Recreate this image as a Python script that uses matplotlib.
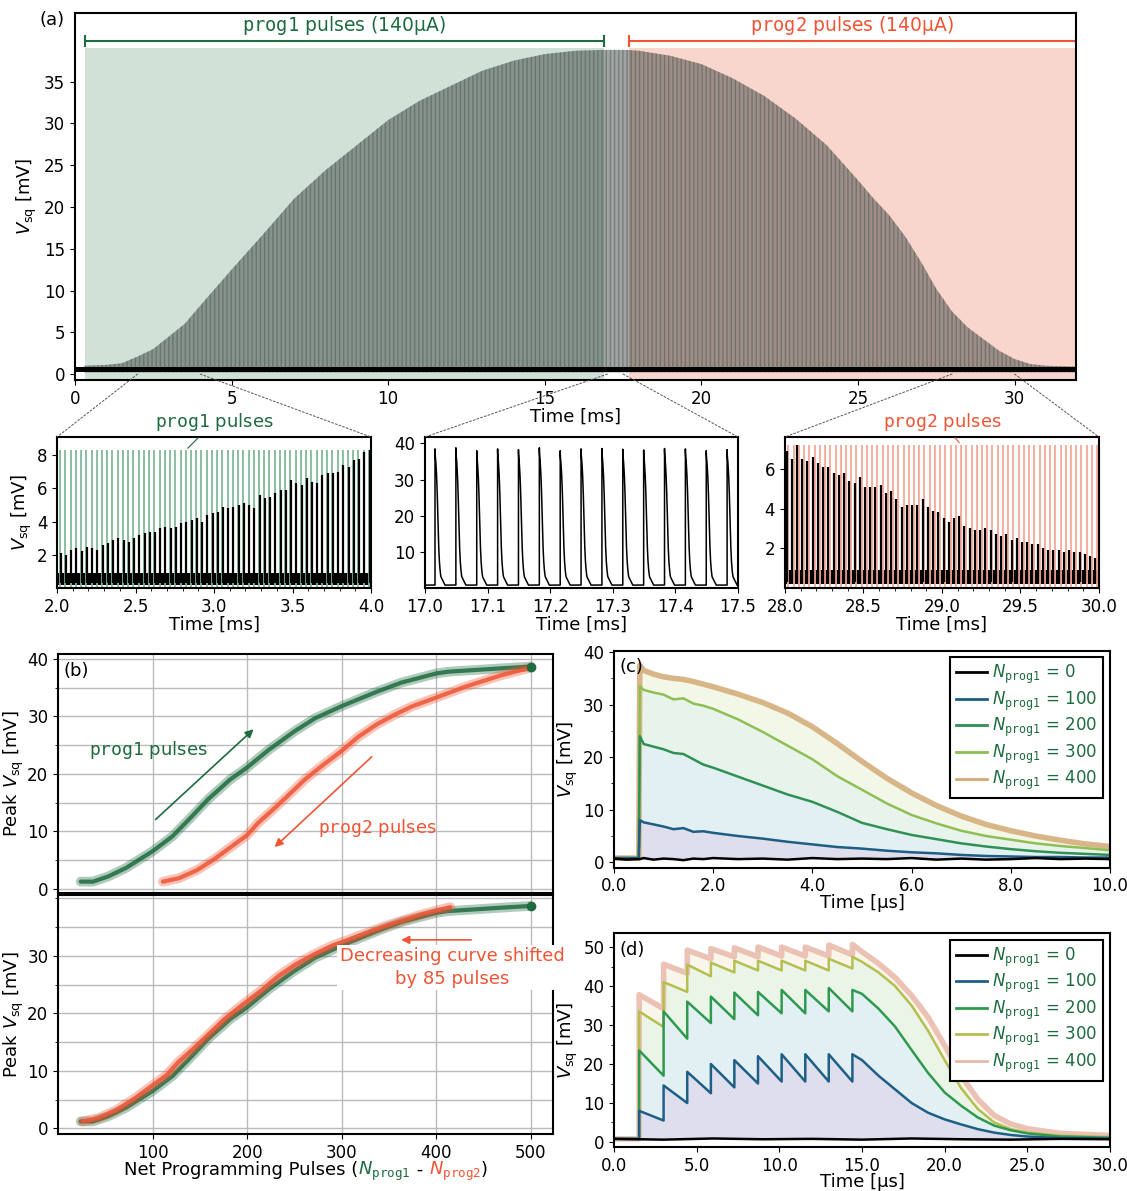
import numpy as np
import matplotlib.pyplot as plt
from matplotlib.patches import ConnectionPatch
from matplotlib.ticker import MultipleLocator, FormatStrFormatter

plt.rcParams['font.family'] = 'DejaVu Sans'
plt.rcParams['mathtext.fontset'] = 'dejavusans'
plt.rcParams['axes.linewidth'] = 1.5

GREEN = '#1e6b40'
RED = '#ef5535'
LGREEN = '#80b99a'
LRED = '#f6a898'
VSQ = r'$V_{\rm sq}$ [mV]'
NP1 = r'$N_{\mathtt{prog1}}$'
NP2 = r'$N_{\mathtt{prog2}}$'

#%% data
# (a) envelope of pulse peak heights vs time [ms]
env_t = [0.3, 1.0, 1.5, 2.0, 2.5, 3.0, 3.5, 4.0, 5.0, 6.0, 7.0, 8.0, 9.0, 10.0, 11.0,
         12.0, 13.0, 14.0, 15.0, 16.0, 16.9, 17.6, 18.0, 19.0, 20.0, 21.0, 22.0, 23.0,
         24.0, 25.0, 25.5, 26.0, 26.5, 27.0, 27.5, 28.0, 28.5, 29.0, 29.5, 30.0, 30.5, 31.0, 31.95]
env_v = [1.0, 1.1, 1.3, 2.1, 3.0, 4.5, 6.0, 8.2, 12.5, 16.7, 21.0, 24.4, 27.4, 30.4, 32.7,
         34.5, 36.3, 37.5, 38.3, 38.7, 38.8, 38.8, 38.7, 38.1, 37.1, 35.4, 33.3, 30.6,
         27.4, 23.2, 21.0, 19.0, 16.5, 13.5, 10.2, 7.5, 5.6, 4.2, 2.8, 1.8, 1.2, 1.0, 0.9]
prog1_span = [0.32, 16.88]
prog2_span = [17.68, 31.95]

# inset peaks (one pulse every 1/30 ms)
ins1_peaks = [2.1, 2.0, 2.3, 2.4, 2.2, 2.5, 2.4, 2.3, 2.6, 2.7,
              2.9, 3.0, 2.9, 2.8, 3.0, 3.2, 3.3, 3.4, 3.4, 3.6,
              3.7, 3.6, 3.7, 3.9, 4.0, 4.1, 4.2, 4.0, 4.4, 4.5,
              4.6, 4.9, 4.8, 4.9, 5.0, 5.1, 5.0, 4.8, 5.6, 5.4,
              5.5, 5.7, 5.9, 5.9, 6.5, 6.3, 6.2, 6.6, 6.4, 6.3,
              6.8, 6.9, 6.9, 7.0, 7.4, 7.3, 7.7, 7.8, 8.2, 8.3]
ins2_peaks = [38.5, 38.8, 38.0, 38.5, 38.3, 38.8, 38.0, 38.5, 38.6, 38.4, 38.2, 38.6, 38.5, 38.0, 38.3]
ins3_peaks = [6.9, 6.5, 7.2, 6.5, 6.4, 6.6, 6.3, 6.1, 6.1, 5.8,
              5.7, 5.8, 5.4, 5.3, 5.6, 5.1, 5.1, 5.1, 5.2, 4.8,
              4.9, 4.5, 4.1, 4.2, 4.2, 4.2, 4.5, 4.1, 3.9, 3.8,
              3.5, 3.3, 3.5, 3.6, 3.1, 3.0, 2.9, 2.9, 3.0, 2.9,
              2.7, 2.6, 2.7, 2.4, 2.5, 2.3, 2.3, 2.2, 2.2, 2.0,
              1.9, 1.9, 1.9, 1.8, 1.9, 1.8, 1.8, 1.7, 1.6, 1.5]
PERIOD = 1 / 30.

# (b) peak Vsq vs net programming pulses
b_g_n = [24, 37, 53, 72, 100, 121, 140, 159, 182, 200, 223, 250, 272, 300, 337, 363, 400, 412, 431, 469, 500]
b_g_v = [1.2, 1.2, 2.1, 3.6, 6.5, 9.1, 12.3, 15.6, 19.0, 21.1, 24.2, 27.4, 29.7, 31.8, 34.3, 35.9, 37.5, 37.8, 38.0, 38.4, 38.7]
b_r_n = [111, 128, 147, 166, 185, 200, 212, 227, 242, 261, 280, 300, 318, 337, 356, 375, 400, 431, 469, 500]
b_r_v = [1.2, 1.8, 3.2, 5.2, 7.5, 9.3, 11.5, 13.7, 16.0, 19.0, 21.5, 24.0, 26.5, 28.6, 30.3, 31.8, 33.3, 35.2, 37.2, 38.5]
SHIFT = 85

# (c) single pulse response [us]
c_t = [0.0, 0.25, 0.5, 0.52, 0.6, 0.8, 1.0, 1.2, 1.4, 1.6, 1.8, 2.0, 2.5, 3.0, 3.5, 4.0,
       4.5, 5.0, 5.5, 6.0, 6.5, 7.0, 7.5, 8.0, 8.5, 9.0, 9.5, 10.0]
c_curves = {
    0:   [0.7, 0.5, 0.6, 0.6, 0.8, 0.5, 0.7, 0.6, 0.4, 0.7, 0.6, 0.8, 0.6, 0.7, 0.5, 0.8,
          0.6, 0.7, 0.6, 0.8, 0.5, 0.7, 0.5, 0.6, 0.8, 0.6, 0.7, 0.6],
    100: [0.8, 0.8, 0.8, 8.0, 7.6, 7.2, 6.8, 6.3, 6.5, 5.8, 5.9, 5.6, 5.0, 4.5, 3.9, 3.4,
          2.9, 2.6, 2.2, 1.9, 1.7, 1.4, 1.2, 1.1, 1.0, 1.0, 0.9, 0.9],
    200: [0.8, 0.8, 0.8, 24.0, 22.5, 22.0, 21.5, 20.8, 20.6, 19.6, 18.6, 18.0, 16.3, 14.6, 12.9, 11.5,
          9.6, 7.5, 6.3, 5.2, 4.4, 3.6, 3.0, 2.5, 2.1, 1.8, 1.6, 1.4],
    300: [0.8, 0.8, 0.8, 33.5, 32.8, 32.3, 31.9, 31.0, 31.2, 30.2, 29.8, 29.2, 27.2, 24.8, 22.2, 19.6,
          16.4, 13.8, 11.2, 9.0, 7.4, 6.0, 5.0, 4.3, 3.6, 3.1, 2.7, 2.3],
    400: [0.8, 0.8, 0.8, 37.5, 36.5, 35.8, 35.3, 35.0, 34.8, 34.4, 33.9, 33.4, 32.0, 30.4, 28.4, 25.8,
          22.6, 19.2, 16.0, 13.2, 10.8, 8.8, 7.2, 6.0, 5.0, 4.2, 3.5, 3.0],
}
c_colors = {0: 'black', 100: '#1e5e84', 200: '#2f9154', 300: '#8ebf55', 400: '#d3aa74'}

# (d) pulse train response [us]
d_pulse_t = [1.52, 3.0, 4.43, 5.86, 7.28, 8.71, 10.14, 11.57, 12.99, 14.42]
d_tail_t = [15.0, 16.0, 17.0, 18.0, 19.0, 20.0, 21.0, 22.0, 23.0, 24.0, 25.0, 27.0, 30.0]
d_peaks = {
    100: [8.0, 14.5, 18.0, 20.0, 21.0, 22.0, 22.5, 22.5, 22.5, 22.5],
    200: [23.5, 33.5, 36.0, 37.3, 38.3, 38.5, 39.0, 39.0, 39.5, 39.0],
    300: [33.5, 41.0, 45.5, 46.0, 46.5, 46.5, 46.5, 46.5, 47.0, 47.5],
    400: [37.8, 45.6, 49.2, 49.6, 49.8, 50.0, 50.0, 50.0, 50.5, 50.7],
}
d_dips = {
    100: [5.5, 10.0, 12.5, 14.0, 15.0, 15.5, 15.5, 15.5, 15.5],
    200: [17.0, 26.5, 30.5, 31.5, 32.5, 33.0, 33.0, 33.5, 33.5],
    300: [29.5, 38.5, 42.5, 43.5, 44.0, 44.0, 44.0, 44.0, 44.5],
    400: [34.2, 43.3, 47.0, 47.5, 47.5, 47.7, 47.7, 47.7, 48.0],
}
d_tail = {
    100: [21.0, 17.0, 13.5, 10.0, 7.5, 5.8, 4.5, 3.3, 2.4, 1.8, 1.4, 1.0, 0.9],
    200: [38.0, 34.2, 29.6, 23.6, 17.7, 12.7, 9.3, 6.3, 4.2, 3.0, 2.2, 1.4, 1.1],
    300: [46.2, 43.5, 40.0, 35.0, 28.5, 21.0, 13.8, 8.5, 5.0, 3.3, 2.4, 1.6, 1.3],
    400: [48.8, 45.8, 42.2, 37.6, 32.0, 24.8, 17.0, 11.0, 6.8, 4.6, 3.4, 2.2, 1.7],
}
d_base = 0.8
d_zero_t = [0.0, 3.0, 6.0, 9.0, 12.0, 15.0, 18.0, 21.0, 24.0, 27.0, 30.0]
d_zero_v = [0.8, 0.6, 0.9, 0.7, 0.8, 0.6, 0.9, 0.7, 0.6, 0.8, 0.7]
d_colors = {0: 'black', 100: '#1e5f86', 200: '#2f9a4f', 300: '#b5bf4f', 400: '#e8b8a8'}


def train(n):
    t = [0.0, d_pulse_t[0]]
    v = [d_base, d_base]
    for k, p in enumerate(d_peaks[n]):
        t.append(d_pulse_t[k]); v.append(p)
        if k < len(d_dips[n]):
            t.append(d_pulse_t[k + 1]); v.append(d_dips[n][k])
    return np.array(t + d_tail_t), np.array(v + d_tail[n])


def style_legend(leg):
    leg.get_frame().set_linewidth(1.5)
    for txt in leg.get_texts():
        txt.set_color(GREEN)
    for lh in leg.get_lines():
        lh.set_linewidth(2)
        lh.set_alpha(1)


fig = plt.figure(figsize=(11.27, 11.91), dpi=100)

#%% (a) full trace
axA = fig.add_axes([0.0665, 0.681, 0.888, 0.308])
axA.fill_between(prog1_span, -0.7, 39.0, color='#d0e1d8', lw=0)
axA.fill_between(prog2_span, -0.7, 39.0, color='#f9d6cd', lw=0)
axA.fill_between(env_t, 0.2, env_v, color='#2d3833', alpha=0.45, lw=0, hatch='||||', edgecolor='#46514c')
axA.fill_between([0, 31.95], 0.3, 0.85, color='black', lw=0)
for span, col, lab in [(prog1_span, GREEN, r'$\mathtt{prog1}$ pulses (140µA)'),
                       (prog2_span, RED, r'$\mathtt{prog2}$ pulses (140µA)')]:
    axA.plot(span, [39.9, 39.9], color=col, lw=1.5)
    axA.plot([span[0]] * 2, [39.3, 40.5], color=col, lw=1.5)
    axA.plot([span[1]] * 2, [39.3, 40.5], color=col, lw=1.5)
    axA.text(np.mean(span), 40.3, lab, color=col, ha='center', va='bottom', fontsize=13.5)
axA.set_xlim(0, 31.95)
axA.set_ylim(-0.7, 43.2)
axA.set_yticks(range(0, 40, 5))
axA.set_xticks(range(0, 35, 5))
axA.tick_params(labelsize=12)
axA.set_xlabel('Time [ms]', fontsize=13, labelpad=0)
axA.set_ylabel(VSQ, fontsize=13)
fig.text(0.035, 0.983, '(a)', fontsize=13, va='center')

#%% insets
ins_w, ins_h, ins_b = 0.2786, 0.1268, 0.5063
ax1 = fig.add_axes([0.0506, ins_b, ins_w, ins_h])
ax2 = fig.add_axes([0.3771, ins_b, 0.2777, ins_h])
ax3 = fig.add_axes([0.6965, ins_b, ins_w, ins_h])

t1 = 2.0 + np.arange(len(ins1_peaks)) * PERIOD + 0.02
ax1.vlines(t1, 0, 8.3, color=LGREEN, lw=1.3)
ax1.fill_between([2.0, 4.0], 0.2, 0.9, color='black', lw=0)
ax1.vlines(t1 + 0.004, 0.3, ins1_peaks, color='black', lw=1.6)
ax1.set_xlim(2.0, 4.0)
ax1.set_ylim(0, 9.1)
ax1.set_yticks([2, 4, 6, 8])
ax1.set_xticks([2.0, 2.5, 3.0, 3.5, 4.0])
ax1.xaxis.set_major_formatter(FormatStrFormatter('%.1f'))
ax1.xaxis.set_minor_locator(MultipleLocator(0.1))
ax1.set_ylabel(VSQ, fontsize=13, labelpad=2)
ax1.annotate(r'$\mathtt{prog1}$ pulses', xy=(t1[24], 8.3), xytext=(0.5, 1.1),
             textcoords='axes fraction', ha='center', va='center', color=GREEN, fontsize=13,
             arrowprops=dict(arrowstyle='-', color=GREEN, lw=0.8))

# middle inset: spikes shaped like the (c) N=400 response
c_arr = np.array(c_curves[400])
ct_arr = np.array(c_t)
mask = ct_arr >= 0.5
t2 = 17.016 + np.arange(len(ins2_peaks)) * PERIOD
xs, ys = [17.0], [0.8]
for tk, pk in zip(t2, ins2_peaks):
    xs += list(tk + (ct_arr[mask] - 0.5) / 1000.)
    ys += list(c_arr[mask] * pk / 37.5)
    xs.append(tk + 0.016); ys.append(0.8)
xs.append(17.5); ys.append(0.8)
ax2.plot(xs, ys, color='black', lw=1.1)
ax2.set_xlim(17.0, 17.5)
ax2.set_ylim(0, 41.8)
ax2.set_yticks([10, 20, 30, 40])
ax2.set_xticks(np.arange(17.0, 17.55, 0.1))
ax2.xaxis.set_major_formatter(FormatStrFormatter('%.1f'))

t3 = 28.0 + np.arange(len(ins3_peaks)) * PERIOD + 0.01
ax3.vlines(t3 + 0.012, 0, 7.2, color=LRED, lw=1.3)
ax3.fill_between([28.0, 30.0], 0.2, 0.9, color='black', lw=0)
ax3.vlines(t3, 0.3, ins3_peaks, color='black', lw=1.6)
ax3.set_xlim(28.0, 30.0)
ax3.set_ylim(0, 7.6)
ax3.set_yticks([2, 4, 6])
ax3.set_xticks([28.0, 28.5, 29.0, 29.5, 30.0])
ax3.xaxis.set_major_formatter(FormatStrFormatter('%.1f'))
ax3.xaxis.set_minor_locator(MultipleLocator(0.1))
ax3.annotate(r'$\mathtt{prog2}$ pulses', xy=(t3[33] + 0.012, 7.2), xytext=(0.5, 1.1),
             textcoords='axes fraction', ha='center', va='center', color=RED, fontsize=13,
             arrowprops=dict(arrowstyle='-', color=RED, lw=0.8))

for ax, (x0, x1) in [(ax1, (2.0, 4.0)), (ax2, (17.0, 17.5)), (ax3, (28.0, 30.0))]:
    ax.tick_params(labelsize=12)
    ax.set_xlabel('Time [ms]', fontsize=13, labelpad=0)
    for xa, xb in [(x0, 0), (x1, 1)]:
        con = ConnectionPatch(xyA=(xa, 0.0), coordsA=axA.transData, xyB=(xb, 1),
                              coordsB=ax.transAxes, color='#555555', lw=0.7, ls=(0, (2, 2)))
        fig.add_artist(con)

#%% (b) peak vs net pulses
axB1 = fig.add_axes([0.0515, 0.2506, 0.4395, 0.2003])
axB2 = fig.add_axes([0.0515, 0.0478, 0.4395, 0.2007])
for ax in (axB1, axB2):
    ax.set_xlim(0, 524)
    ax.set_xticks([100, 200, 300, 400, 500])
    ax.set_yticks([0, 10, 20, 30, 40])
    ax.yaxis.set_minor_locator(MultipleLocator(5))
    ax.grid(True, which='both', color='#bbbbbb', lw=1.0)
    ax.set_axisbelow(True)
    ax.tick_params(labelsize=12)
    ax.set_ylabel('Peak ' + VSQ, fontsize=13, labelpad=1)
axB1.set_ylim(-0.7, 40.9)
axB2.set_ylim(-1.0, 40.6)
axB1.tick_params(labelbottom=False)
axB2.set_yticks([0, 10, 20, 30])
axB2.set_yticks([5, 15, 25, 35, 40], minor=True)


def band(ax, n, v, col):
    ax.plot(n, v, color=col, lw=7, alpha=0.35, solid_capstyle='round')
    ax.plot(n, v, color=col, lw=3, alpha=0.85, solid_capstyle='round')


band(axB1, b_g_n, b_g_v, GREEN)
band(axB1, b_r_n, b_r_v, RED)
axB1.plot(b_g_n[-1], b_g_v[-1], 'o', color=GREEN, ms=6)
axB1.annotate('', xy=(209, 28.1), xytext=(101, 11.7),
              arrowprops=dict(arrowstyle='-|>', color=GREEN, lw=1.2, mutation_scale=12))
axB1.annotate('', xy=(227, 6.9), xytext=(334, 23.3),
              arrowprops=dict(arrowstyle='-|>', color=RED, lw=1.2, mutation_scale=12))
axB1.text(96, 24.2, r'$\mathtt{prog1}$ pulses', color=GREEN, fontsize=13, ha='center', va='center')
axB1.text(338, 10.6, r'$\mathtt{prog2}$ pulses', color=RED, fontsize=13, ha='center', va='center')
axB1.text(0.012, 0.965, '(b)', transform=axB1.transAxes, fontsize=13, va='top')

band(axB2, b_g_n, b_g_v, GREEN)
band(axB2, np.array(b_r_n) - SHIFT, b_r_v, RED)
axB2.plot(b_g_n[-1], b_g_v[-1], 'o', color=GREEN, ms=6)
axB2.annotate('', xy=(360, 32.8), xytext=(440, 32.8),
              arrowprops=dict(arrowstyle='-|>', color=RED, lw=1.2, mutation_scale=12))
axB2.text(417, 28.0, 'Decreasing curve shifted\nby 85 pulses', color=RED, fontsize=13,
          ha='center', va='center', linespacing=1.3,
          bbox=dict(facecolor='white', edgecolor='none', pad=2))

#%% (c) and (d)
axC = fig.add_axes([0.5448, 0.2716, 0.4401, 0.1822])
levels = [0, 100, 200, 300, 400]
fills_c = ['#3f3f9a', '#5aa8b8', '#7cc08a', '#b6d27a']
for lo, hi, fc in zip(levels[:-1], levels[1:], fills_c):
    axC.fill_between(c_t, c_curves[lo], c_curves[hi], color=fc, alpha=0.17, lw=0)
for n in [400, 300, 200, 100, 0]:
    axC.plot(c_t, c_curves[n], color=c_colors[n], lw=4 if n == 400 else 1.8,
             alpha=0.85 if n == 400 else 1, label=NP1 + f' = {n}', zorder=3 if n == 0 else 2)
h, l = axC.get_legend_handles_labels()
legC = axC.legend(h[::-1], l[::-1], loc='upper right', fontsize=12, frameon=True, fancybox=False,
                  edgecolor='black', framealpha=1, handlelength=1.9, handletextpad=0.3,
                  borderpad=0.35, labelspacing=0.2, borderaxespad=0.4)
style_legend(legC)
axC.set_xlim(0, 10)
axC.set_ylim(-1.0, 40.3)
axC.set_xticks([0, 2, 4, 6, 8, 10])
axC.xaxis.set_major_formatter(FormatStrFormatter('%.1f'))
axC.set_yticks([0, 10, 20, 30, 40])
axC.yaxis.set_minor_locator(MultipleLocator(5))
axC.tick_params(labelsize=12)
axC.set_xlabel('Time [µs]', fontsize=13, labelpad=-1)
axC.set_ylabel(VSQ, fontsize=13, labelpad=2)
axC.text(0.012, 0.965, '(c)', transform=axC.transAxes, fontsize=13, va='top')

axD = fig.add_axes([0.5448, 0.0369, 0.4401, 0.1797])
d_lines = {n: train(n) for n in [100, 200, 300, 400]}
dt = d_lines[100][0]
fills_d = ['#3f3f9a', '#5aa8b8', '#86c47a', '#d8c98a']
prev = np.full(len(dt), d_base)
for n, fc in zip([100, 200, 300, 400], fills_d):
    axD.fill_between(dt, prev, d_lines[n][1], color=fc, alpha=0.17, lw=0)
    prev = d_lines[n][1]
for n in [400, 300, 200, 100]:
    axD.plot(*d_lines[n], color=d_colors[n], lw=4 if n == 400 else 1.8,
             alpha=0.85 if n == 400 else 1, label=NP1 + f' = {n}')
axD.plot(d_zero_t, d_zero_v, color='black', lw=1.8, label=NP1 + ' = 0', zorder=3)
h, l = axD.get_legend_handles_labels()
order = [4, 3, 2, 1, 0]
legD = axD.legend([h[i] for i in order], [l[i] for i in order], loc='upper right', fontsize=12,
                  frameon=True, fancybox=False, edgecolor='black', framealpha=1,
                  handlelength=1.9, handletextpad=0.3, borderpad=0.35, labelspacing=0.2,
                  borderaxespad=0.4)
style_legend(legD)
axD.set_xlim(0, 30)
axD.set_ylim(-1.3, 53.6)
axD.set_xticks([0, 5, 10, 15, 20, 25, 30])
axD.xaxis.set_major_formatter(FormatStrFormatter('%.1f'))
axD.set_yticks([0, 10, 20, 30, 40, 50])
axD.yaxis.set_minor_locator(MultipleLocator(5))
axD.tick_params(labelsize=12)
axD.set_xlabel('Time [µs]', fontsize=13, labelpad=-1)
axD.set_ylabel(VSQ, fontsize=13, labelpad=2)
axD.text(0.012, 0.965, '(d)', transform=axD.transAxes, fontsize=13, va='top')

#%% multi coloured x label of (b)
parts = [('Net Programming Pulses (', 'black'), (NP1, GREEN), (' - ', 'black'),
         (NP2, RED), (')', 'black')]
texts = [fig.text(0, 0.0135, s, color=c, fontsize=13, va='baseline', ha='left') for s, c in parts]
r = fig.canvas.get_renderer()
W = fig.get_figwidth() * fig.dpi
widths = [t.get_window_extent(r).width for t in texts]
x = 0.2715 * W - sum(widths) / 2
for t, w in zip(texts, widths):
    t.set_x(x / W)
    x += w

plt.savefig('out.png', dpi=100)
